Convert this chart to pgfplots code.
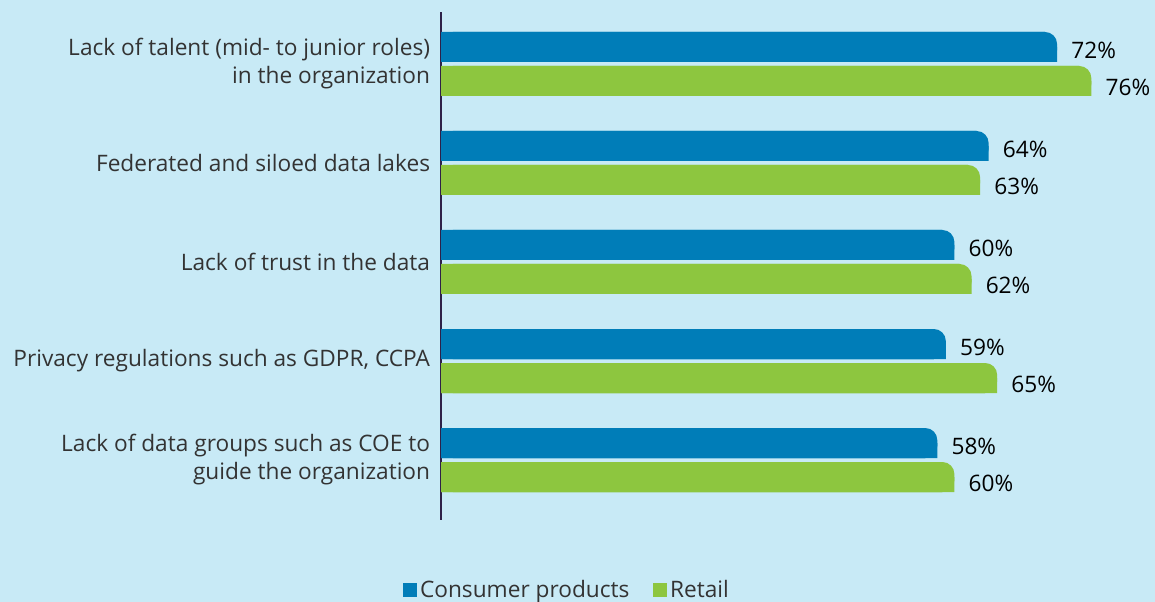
\documentclass[border=0pt]{standalone}
\usepackage{pgfplots}
\pgfplotsset{compat=1.18}
\usepackage{pgfplotstable}
\usepackage{fontspec}
\setmainfont{Open Sans}

\definecolor{bg}{HTML}{C8EAF6}
\definecolor{cpblue}{HTML}{007DB8}
\definecolor{regreen}{HTML}{8DC63F}
\definecolor{lbl}{HTML}{333333}
\definecolor{axisline}{HTML}{2E2148}

% share of respondents (%)
\pgfplotstableread{
idx cp re
0 72 76
1 64 63
2 60 62
3 59 65
4 58 60
}\survey

\begin{document}
\begin{tikzpicture}[x=1pt,y=1pt]
\fill[bg] (0,0) rectangle (866.25,-451.5);
\begin{axis}[
  at={(330.75pt,-9pt)}, anchor=north west,
  scale only axis, width=513.4pt, height=381pt,
  xmin=0, xmax=80, ymin=-0.525, ymax=4.606, y dir=reverse,
  axis x line=none, axis y line*=left,
  axis line style={axisline, line width=0.8pt},
  ytick={0,...,4}, major tick length=0pt,
  yticklabels={{Lack of talent (mid- to junior roles)\\in the organization},
    {Federated and siloed data lakes},
    {Lack of trust in the data},
    {Privacy regulations such as GDPR, CCPA},
    {Lack of data groups such as COE to\\guide the organization}},
  yticklabel style={align=right, font=\fontsize{17}{21}\selectfont, text=lbl, inner sep=0pt, xshift=-8pt},
  xbar, bar width=22.5pt,
  /pgf/number format/assume math mode=true,
  legend columns=2,
  legend image code/.code={\fill[#1, sharp corners] (0pt,-5pt) rectangle (10.5pt,5.5pt);},
  legend style={at={(0.1848,-0.1378)}, anchor=center, draw=none, fill=none,
    font=\fontsize{17}{20}\selectfont, text=lbl,
    /tikz/every even column/.append style={column sep=16pt}},
]
% consumer products
\addplot[draw=none, fill=cpblue, rounded corners=9pt, bar shift=12.75pt,
  nodes near coords={\pgfmathprintnumber{\pgfplotspointmeta}\%},
  every node near coord/.append style={anchor=west, inner sep=0pt, xshift=10.5pt, yshift=-2.5pt,
    font=\fontsize{17}{20}\selectfont, text=black}]
  table[x=cp, y=idx]{\survey};
\addlegendentry{Consumer products}
\addplot[draw=none, fill=cpblue, bar shift=12.75pt, forget plot]
  table[x expr=\thisrow{cp}-1.4, y=idx]{\survey};
\addplot[draw=none, fill=cpblue, bar shift=7.125pt, bar width=11.25pt, forget plot]
  table[x=cp, y=idx]{\survey};
% retail
\addplot[draw=none, fill=regreen, rounded corners=9pt, bar shift=-12.75pt,
  nodes near coords={\pgfmathprintnumber{\pgfplotspointmeta}\%},
  every node near coord/.append style={anchor=west, inner sep=0pt, xshift=10.5pt, yshift=-4.5pt,
    font=\fontsize{17}{20}\selectfont, text=black}]
  table[x=re, y=idx]{\survey};
\addlegendentry{Retail}
\addplot[draw=none, fill=regreen, bar shift=-12.75pt, forget plot]
  table[x expr=\thisrow{re}-1.4, y=idx]{\survey};
\addplot[draw=none, fill=regreen, bar shift=-18.375pt, bar width=11.25pt, forget plot]
  table[x=re, y=idx]{\survey};
\end{axis}
\pgfresetboundingbox
\path[use as bounding box] (0,0) rectangle (866.25,-451.5);
\end{tikzpicture}
\end{document}
